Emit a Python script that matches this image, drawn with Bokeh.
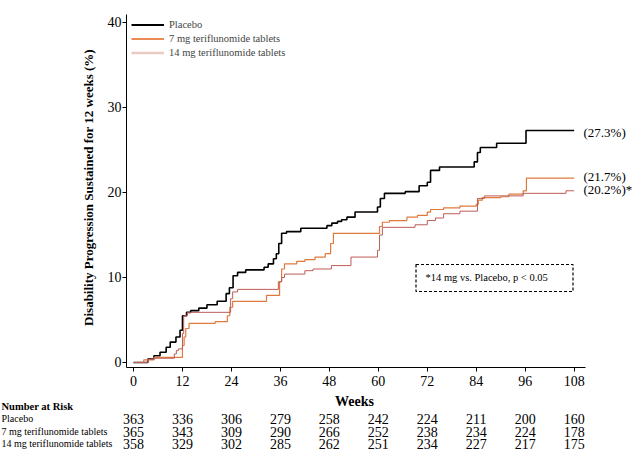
import math
from bokeh.plotting import figure
from bokeh.models import Legend, LegendItem, Range1d, FixedTicker
from bokeh.core.properties import value
from bokeh.embed import file_html
from bokeh.resources import INLINE

# ---------------- data ----------------
placebo_wk = [0, 3.5, 5, 6.5, 8, 9, 10.4, 11.4, 12, 13, 14, 16, 18, 20.5, 22.7, 23.5, 24.4, 25.5, 27.5,
              32, 33, 34.3, 35, 35.6, 36.3, 37.5, 41, 47.4, 48.6, 50, 51, 52.3, 54.3, 59.8, 60.5, 61.5,
              66.6, 70, 72, 72.8, 75, 83.5, 84.3, 85, 89, 96.2, 108]
placebo_val = [0, 0.4, 0.8, 1.2, 1.8, 2.4, 3.0, 3.8, 5.5, 5.9, 6.1, 6.4, 6.8, 7.2, 8.1, 8.8, 10.2, 10.6, 10.9,
               11.2, 11.6, 12.2, 12.8, 14.0, 15.2, 15.4, 15.8, 16.1, 16.4, 16.6, 16.8, 17.1, 17.7, 18.3, 19.3, 19.9,
               20.1, 20.8, 21.2, 22.6, 23.0, 23.6, 24.7, 25.3, 25.8, 27.3, 27.3]

mg7_wk = [0, 2.5, 5, 12, 12.4, 12.8, 13.6, 20, 23, 23.6, 24.3, 32.6, 35.8, 36.3, 37, 40, 42, 44.5, 47,
          48.3, 49, 60.3, 61, 62.7, 67, 69.6, 72, 72.8, 76, 80, 84, 84.5, 85.5, 90, 92, 95.5, 96.3, 108]
mg7_val = [0, 0.3, 0.6, 2.0, 3.0, 4.0, 4.6, 4.8, 5.5, 6.5, 7.2, 7.9, 9.5, 11.0, 11.6, 11.9, 12.1, 12.4, 12.8,
           14.0, 15.2, 16.0, 16.5, 16.7, 17.1, 17.3, 17.7, 18.0, 18.2, 18.4, 18.6, 19.1, 19.4, 19.5, 19.8, 20.2, 21.7, 21.7]

mg14_wk = [0, 3.5, 5, 10, 10.5, 11, 12, 12.3, 13.2, 23.8, 24.3, 25.5, 35.5, 36.3, 37, 42, 44, 48.5, 53.3,
           59.8, 60.3, 61, 69, 72, 74, 76, 80, 84.3, 86, 95.5, 106, 108]
mg14_val = [0, 0.35, 0.5, 1.0, 1.4, 1.6, 3.4, 5.5, 5.9, 7.5, 8.3, 8.6, 9.5, 10.0, 10.4, 10.8, 11.0, 11.4, 12.4,
            13.2, 15.0, 15.9, 16.2, 16.7, 17.0, 17.5, 17.8, 19.3, 19.6, 19.9, 20.2, 20.2]

series_names = ["Placebo", "7 mg teriflunomide tablets", "14 mg teriflunomide tablets"]
end_labels = ["(27.3%)", "(21.7%)", "(20.2%)*"]
end_label_y = [27.1, 21.9, 20.3]

risk_weeks = [0, 12, 24, 36, 48, 60, 72, 84, 96, 108]
risk_placebo = [363, 336, 306, 279, 258, 242, 224, 211, 200, 160]
risk_7mg = [365, 343, 309, 290, 266, 252, 238, 234, 224, 178]
risk_14mg = [358, 329, 302, 285, 262, 251, 234, 227, 217, 175]

x_ticks = [0, 12, 24, 36, 48, 60, 72, 84, 96, 108]
y_ticks = [0, 10, 20, 30, 40]

SERIF = "Liberation Serif"

# ---------------- geometry ----------------
W, H = 634, 450
PX_WK, PX_PCT = 4.08, 8.5          # pixels per week / per percent
AX_LEFT_PX, AX_BOTTOM_PX = 126, 367  # where the axes sit on the canvas
AX_RIGHT_PX, AX_TOP_PX = 585, 14
x_ax = -1.72                        # week value at the y axis
y_ax = -0.59                        # percent value at the x axis
X_START = x_ax - AX_LEFT_PX / PX_WK
X_END = X_START + W / PX_WK
Y_START = y_ax - (H - AX_BOTTOM_PX) / PX_PCT
Y_END = y_ax + AX_BOTTOM_PX / PX_PCT

def dx(px):   # canvas x -> week coordinate (for text placement)
    return X_START + px / PX_WK
def dy(py):   # canvas y (from top) -> percent coordinate (for text placement)
    return Y_END - py / PX_PCT

p = figure(width=W, height=H, output_backend="svg", toolbar_location=None,
           x_range=Range1d(X_START, X_END), y_range=Range1d(Y_START, Y_END),
           min_border_left=0, min_border_right=0, min_border_top=0, min_border_bottom=0)
p.outline_line_color = None
p.xgrid.grid_line_color = None
p.ygrid.grid_line_color = None
p.background_fill_color = "white"
p.border_fill_color = "white"

for ax in (p.xaxis[0], p.yaxis[0]):
    ax.axis_line_color = "black"
    ax.axis_line_width = 1
    ax.major_tick_line_color = "black"
    ax.major_tick_in = 0
    ax.major_tick_out = 4
    ax.minor_tick_line_color = None
    ax.major_label_text_font = SERIF
    ax.major_label_text_font_size = "14px"
    ax.major_label_text_color = "black"

p.xaxis.ticker = FixedTicker(ticks=x_ticks)
p.yaxis.ticker = FixedTicker(ticks=y_ticks)
p.xaxis.fixed_location = y_ax
p.yaxis.fixed_location = x_ax
p.xaxis.bounds = (x_ax, dx(AX_RIGHT_PX))
p.yaxis.bounds = (y_ax, dy(AX_TOP_PX))
p.xaxis.major_label_standoff = 4
p.yaxis.major_label_standoff = 1

c_pl = "black"
c_7 = "#E07A3C"
c_14 = "#BE5C56"
p.step(placebo_wk, placebo_val, mode="after", line_color=c_pl, line_width=1.6)
p.step(mg7_wk, mg7_val, mode="after", line_color=c_7, line_width=1.2)
p.step(mg14_wk, mg14_val, mode="after", line_color=c_14, line_width=1.0)

# legend with off-range dummy renderers
l1 = p.line([-80, -79], [-80, -80], line_color="black", line_width=2.2)
l2 = p.line([-80, -79], [-80, -80], line_color="#EC8A55", line_width=2.2)
l3 = p.line([-80, -79], [-80, -80], line_color="#E8CCC4", line_width=2.6)
legend = Legend(items=[LegendItem(label=series_names[0], renderers=[l1]),
                       LegendItem(label=series_names[1], renderers=[l2]),
                       LegendItem(label=series_names[2], renderers=[l3])],
                location=(131, 391), orientation="vertical",
                glyph_width=33, glyph_height=13, label_height=13, spacing=1,
                label_standoff=5, padding=0, margin=0,
                label_text_font=SERIF, label_text_font_size="10.5px",
                border_line_color=None, background_fill_alpha=0)
p.add_layout(legend)

def txt(x, y, s, size, align="left", bold=False, angle=0.0):
    p.text(x=x, y=y, text=s, text_font=value(SERIF), text_font_size=size,
           text_font_style="bold" if bold else "normal", text_align=align,
           text_baseline="middle", text_color="black", angle=angle)

# axis titles
txt([dx(87.5)], [dy(187)], ["Disability Progression Sustained for 12 weeks (%)"], "13px",
    align="center", bold=True, angle=math.pi / 2)
txt([dx(354)], [dy(401)], ["Weeks"], "14px", align="center", bold=True)

# end-of-curve labels
txt([dx(583)] * 3, end_label_y, end_labels, "13px")

# significance box
p.quad(left=[dx(415.5)], right=[dx(572.5)], bottom=[dy(291)], top=[dy(264)], fill_alpha=0,
       line_color="black", line_width=1.2, line_dash="3 2")
txt([dx(425)], [dy(277)], ["*14 mg vs. Placebo, p < 0.05"], "10.5px")

# number at risk table
txt([dx(1)], [dy(406)], ["Number at Risk"], "10.5px", bold=True)
row_py = [418, 431, 443]
for name, py, vals in zip(series_names, row_py, [risk_placebo, risk_7mg, risk_14mg]):
    txt([dx(1)], [dy(py)], [name], "10px")
    txt(risk_weeks, [dy(py)] * len(vals), [str(v) for v in vals], "14px", align="center")

open("out.html", "w").write(file_html(p, INLINE))
